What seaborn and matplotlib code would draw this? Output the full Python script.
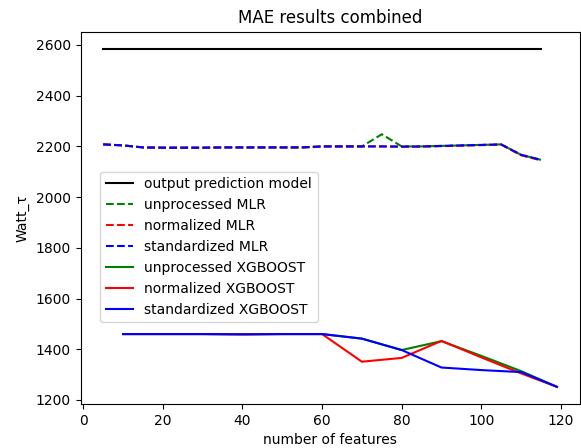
import numpy as np
import pandas as pd
import matplotlib
matplotlib.use("Agg")
import matplotlib.pyplot as plt
import seaborn as sns

# ---- data ----
mlr_x = [5, 10, 15, 20, 25, 30, 35, 40, 45, 50, 55, 60, 65, 70, 75, 80, 85, 90, 95, 100, 105, 110, 115]
mlr_unprocessed = [2208, 2204, 2196, 2195, 2195, 2195, 2196, 2196, 2196, 2196, 2196, 2200, 2200, 2200, 2248, 2200, 2200, 2202, 2204, 2206, 2208, 2167, 2147]
mlr_normalized = [2208, 2204, 2196, 2195, 2195, 2195, 2196, 2196, 2196, 2196, 2196, 2200, 2200, 2200, 2200, 2198, 2199, 2201, 2203, 2205, 2207, 2165, 2145]
mlr_standardized = [2208, 2204, 2196, 2195, 2195, 2195, 2196, 2196, 2196, 2196, 2196, 2200, 2200, 2200, 2200, 2200, 2200, 2202, 2204, 2206, 2208, 2167, 2147]

output_x = [5, 115]
output_model = [2585, 2585]

xgb_x = [10, 20, 30, 40, 50, 60, 70, 80, 90, 100, 110, 119]
xgb_unprocessed = [1460, 1460, 1460, 1459, 1460, 1460, 1442, 1397, 1432, 1374, 1314, 1252]
xgb_normalized = [1460, 1460, 1460, 1459, 1460, 1460, 1351, 1366, 1433, 1368, 1305, 1252]
xgb_standardized = [1460, 1460, 1460, 1459, 1460, 1460, 1442, 1397, 1328, 1318, 1310, 1252]

fig = plt.figure(figsize=(5.81, 4.48), dpi=100)
ax = fig.add_axes([80.5 / 581, (448 - 403.8) / 448, 499.1 / 581, 372 / 448])

sns.lineplot(x=output_x, y=output_model, color="black", label="output prediction model", ax=ax)
sns.lineplot(x=mlr_x, y=mlr_unprocessed, color="green", linestyle="--", label="unprocessed MLR", ax=ax)
sns.lineplot(x=mlr_x, y=mlr_normalized, color="red", linestyle="--", label="normalized MLR", ax=ax)
sns.lineplot(x=mlr_x, y=mlr_standardized, color="blue", linestyle="--", label="standardized MLR", ax=ax)
sns.lineplot(x=xgb_x, y=xgb_unprocessed, color="green", label="unprocessed XGBOOST", ax=ax)
sns.lineplot(x=xgb_x, y=xgb_normalized, color="red", label="normalized XGBOOST", ax=ax)
sns.lineplot(x=xgb_x, y=xgb_standardized, color="blue", label="standardized XGBOOST", ax=ax)

ax.set_xlim(-0.7, 124.7)
ax.set_ylim(1185, 2652)
ax.set_title("MAE results combined", fontsize=12)
ax.set_xlabel("number of features")
ax.set_ylabel("Watt_τ")
ax.legend(loc="upper left", bbox_to_anchor=((100 - 80.5) / 499.1, (403.8 - 171.7) / 372),
          borderaxespad=0, fontsize=10)

fig.savefig("out.png", dpi=100)
